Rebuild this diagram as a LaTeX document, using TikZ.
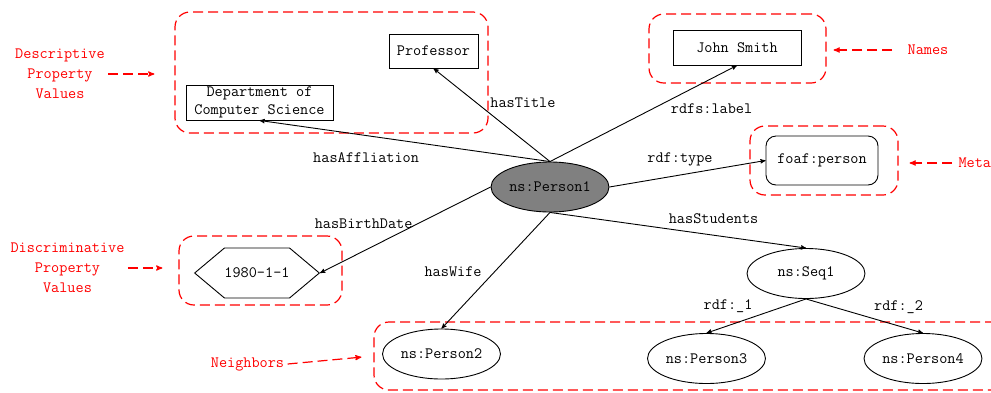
\documentclass[tikz,border=0pt]{standalone}
\usepackage{fontspec}
\usetikzlibrary{arrows,shapes.geometric,shapes.symbols}
\tikzset{
	every node/.style={font=\fontsize{15.8}{20}\selectfont\ttfamily},
	resource/.style={
		ellipse,
		draw,
		line width=0.9pt,
		minimum width=118pt,
		minimum height=50pt,
		inner sep=0pt
	},
	literal/.style={rectangle, draw, line width=0.9pt, inner sep=2pt},
	group/.style={
		draw=red,
		line width=1.2pt,
		dash pattern=on 10pt off 5pt,
		rounded corners=15pt,
		inner sep=0pt
	},
	note/.style={text=red, align=center},
	notearrow/.style={draw=red, line width=1.2pt, dash pattern=on 10pt off 5pt, ->, >=stealth'},
	every edge/.style={
		draw,
		->,>=stealth',
		line width=0.9pt
	}
}

\begin{document}
\begin{tikzpicture}[x=1pt, y=-1pt]
	\clip (0,0) rectangle (991,392);

	% dashed groups
	\node[group, minimum width=313pt, minimum height=121pt] (descbox) at (331.5,72.5) {};
	\node[group, minimum width=177pt, minimum height=69pt] (namebox) at (737.5,48.5) {};
	\node[group, minimum width=148pt, minimum height=69pt] (metabox) at (824,160.5) {};
	\node[group, minimum width=163pt, minimum height=69pt] (datebox) at (260.5,270.5) {};
	\node[group, minimum width=636pt, minimum height=68pt] (nbrbox) at (692,356) {};

	% resources and literals
	\node[resource, fill=gray] (p1) at (550,187) {ns:Person1};
	\node[literal, minimum width=89pt, minimum height=34pt] (prof) at (433.5,51) {Professor};
	\node[literal, minimum width=147pt, minimum height=35pt, inner sep=0pt, align=center,
		font=\fontsize{15.8}{18}\selectfont\ttfamily] (dept) at (259.5,102.5) {Department of\\Computer Science};
	\node[literal, minimum width=128pt, minimum height=35pt] (js) at (737,47.5) {John Smith};
	\node[literal, rounded corners=10pt, minimum width=112pt, minimum height=49pt] (foaf) at (822,160.5) {foaf:person};
	\node[signal, signal to=east and west, signal pointer angle=80, draw, line width=0.9pt,
		minimum width=116pt, minimum height=50pt, inner sep=0pt] (date) at (257,273) {1980-1-1};
	\node[resource] (seq) at (806,273.5) {ns:Seq1};
	\node[resource] (p2) at (441.5,354) {ns:Person2};
	\node[resource] (p3) at (706.5,358.5) {ns:Person3};
	\node[resource] (p4) at (923,358.5) {ns:Person4};

	% properties
	\draw (p1.north) edge node[pos=0.63, right=10pt] {hasTitle} (prof.south);
	\draw (p1.north) edge node[pos=0.546, right=15pt] {rdfs:label} (js.south);
	\draw (p1.north) edge node[pos=0.633, below=13pt] {hasAffliation} (dept.south);
	\draw (p1.east) edge node[pos=0.452, above=5pt] {rdf:type} (foaf.west);
	\draw (p1.south) edge node[pos=0.639, above=8pt] {hasStudents} (seq.north);
	\draw (p1.west) edge node[pos=0.43, left=1pt] {hasBirthDate} (date.east);
	\draw (p1.south) edge node[pos=0.513, left=9pt] {hasWife} (p2.north);
	\draw (seq.south) edge node[pos=0.5, above left] {rdf:\_1} (p3.north);
	\draw (seq.south) edge node[pos=0.55, above right] {rdf:\_2} (p4.north);

	% notes
	\node[note] (desc) at (60,74) {Descriptive\\Property\\Values};
	\node[note] (disc) at (67.5,268) {Discriminative\\Property\\Values};
	\node[note] (nbr) at (247.5,364) {Neighbors};
	\node[note] (names) at (928,50) {Names};
	\node[note, anchor=west] (meta) at (955,163) {Meta};

	\draw[notearrow, shorten >=20pt] (desc.east) -- (desc.east -| descbox.west);
	\draw[notearrow, shorten >=16pt] (disc.east) -- (disc.east -| datebox.west);
	\draw[notearrow, shorten >=12pt] (nbr.east) -- (nbrbox.west);
	\draw[notearrow, shorten <=12pt, shorten >=7pt] (names.west) -- (names.west -| namebox.east);
	\draw[notearrow, shorten <=3pt, shorten >=11pt] (meta.west) -- (meta.west -| metabox.east);
\end{tikzpicture}
\end{document}
